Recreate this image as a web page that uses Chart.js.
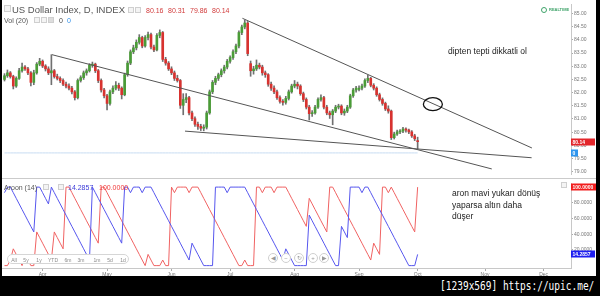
<!DOCTYPE html>
<html>
<head>
<meta charset="utf-8">
<script src="https://cdn.jsdelivr.net/npm/chart.js@4.4.0/dist/chart.umd.min.js"></script>
<style>
body{margin:0;background:#000;}
#wrap{position:relative;width:600px;height:296px;background:#000;overflow:hidden;font-family:"Liberation Sans",Arial,sans-serif;}
#panel{position:absolute;left:2px;top:0;width:594px;height:276px;background:#fff;}
canvas{position:absolute;left:2px;}
.t{position:absolute;white-space:nowrap;line-height:1;}
.sq{position:absolute;width:4px;height:4px;border:1px solid #cfcfcf;background:#f4f4f4;}
.note{position:absolute;white-space:nowrap;font-size:8.5px;color:#222;line-height:11.5px;}
.pill{position:absolute;left:7px;top:254px;width:120px;height:8px;border:1px solid #d6d6d6;border-radius:5px;background:#fff;}
.pill span{position:absolute;top:1.5px;font-size:5px;color:#8a8a8a;transform:translateX(-50%);}
.nav{position:absolute;width:8px;height:8px;border:1px solid #cfcfcf;border-radius:50%;background:#fff;font-size:6px;color:#999;text-align:center;line-height:8px;}
#sep{position:absolute;left:2px;top:178px;width:594px;height:1px;background:#cbcbcb;}
#foot{position:absolute;right:6px;top:278px;font-family:"DejaVu Sans Mono",monospace;font-size:13px;color:#fff;transform:scaleX(0.73);transform-origin:right top;white-space:nowrap;}
</style>
</head>
<body>
<div id="wrap">
  <div id="panel"></div>
  <canvas id="price" width="594" height="178" style="top:0"></canvas>
  <div id="sep"></div>
  <canvas id="aroon" width="594" height="97" style="top:179px"></canvas>

  <div class="sq" style="left:4px;top:5px;width:5px;height:5px"></div>
  <div class="t" style="left:12px;top:5px;font-size:9.5px;color:#555">US Dollar Index, D, INDEX</div>
  <div class="sq" style="left:128px;top:7px"></div>
  <div class="sq" style="left:135px;top:7px"></div>
  <div class="t" style="left:146px;top:7px;font-size:7px;color:#d23c3c">80.16</div>
  <div class="t" style="left:168px;top:7px;font-size:7px;color:#d23c3c">80.31</div>
  <div class="t" style="left:190px;top:7px;font-size:7px;color:#d23c3c">79.86</div>
  <div class="t" style="left:212px;top:7px;font-size:7px;color:#d23c3c">80.14</div>
  <div class="t" style="left:4px;top:17px;font-size:7px;color:#555">Vol (20)</div>
  <div class="sq" style="left:34px;top:17px"></div>
  <div class="sq" style="left:41px;top:17px"></div>
  <div class="sq" style="left:48px;top:17px;background:#ddd"></div>
  <div class="t" style="left:59px;top:17px;font-size:7px;color:#444">0</div>
  <div class="t" style="left:67px;top:17px;font-size:7px;color:#2f8fe8">0</div>

  <div class="t" style="left:541px;top:7px;width:4px;height:4px;border:1px solid #3fa36a;border-radius:50%"></div>
  <div class="t" style="left:549px;top:8px;font-size:4px;font-weight:bold;color:#3fa36a">REALTIME</div>

  <div class="t" style="left:4px;top:184px;font-size:7px;color:#555">Aroon (14)</div>
  <div class="sq" style="left:43px;top:184px"></div>
  <div class="sq" style="left:58px;top:184px"></div>
  <div class="t" style="left:68px;top:184px;font-size:7px;color:#3b3bd8">14.2857</div>
  <div class="t" style="left:99px;top:184px;font-size:7px;color:#f03a3a">100.0000</div>
  <div class="sq" style="left:561px;top:182px;width:4px;height:4px"></div>

  <div class="pill">
    <span style="left:6px">All</span><span style="left:18px">5y</span><span style="left:31px">1y</span>
    <span style="left:45px">YTD</span><span style="left:60px">6m</span><span style="left:73px">3m</span>
    <span style="left:89px">1m</span><span style="left:102px">5d</span><span style="left:115px">1d</span>
  </div>
  <div class="nav" style="left:268px;top:253px">&#9664;</div>
  <div class="nav" style="left:281px;top:253px">&#8722;</div>
  <div class="nav" style="left:294px;top:253px">&#8635;</div>
  <div class="nav" style="left:308px;top:253px">+</div>
  <div class="nav" style="left:319px;top:253px">&#9654;</div>

  <div class="note" style="left:448px;top:46px">dipten tepti dikkatli ol</div>
  <div class="note" style="left:452px;top:188px">aron mavi yukarı dönüş<br>yaparsa altın daha<br>düşer</div>

  <div id="foot">[1239x569] https://upic.me/</div>
</div>
<script>
// month ticks (bar index of first trading day of each month)
const monthLabels = ['Apr','May','Jun','Jul','Aug','Sep','Oct','Nov','Dec'];
const monthTicks = [13,35,57,77,99,121,141,164,184];
const priceTicks = [85,84.5,84,83.5,83,82.5,82,81.5,81,80.5,80,79.5,79];
const aroonTicks = [100,80,60,40,20];

// daily OHLC, US Dollar Index
const open = [
82.50,82.64,82.75,82.61,82.25,82.54,82.83,82.97,82.90,82.75,
82.39,82.75,83.08,83.19,83.01,82.90,82.75,82.83,82.61,82.54,
82.46,82.32,82.25,82.17,82.03,81.81,82.46,82.57,82.75,82.83,
83.04,83.08,82.83,82.46,82.10,81.88,81.59,82.03,82.17,82.28,
82.17,81.92,82.68,83.12,83.55,83.70,83.91,84.09,83.77,84.09,
84.20,83.73,83.62,84.17,84.28,83.26,83.12,82.90,82.75,82.54,
82.46,81.52,81.74,81.81,81.23,81.01,80.80,80.72,80.65,80.69,
81.23,82.03,82.39,82.54,82.68,82.83,82.97,83.19,83.33,83.55,
83.77,84.28,84.49,84.64,83.10,82.83,82.90,83.04,82.97,82.75,
82.68,82.32,82.17,82.03,81.81,81.67,81.63,81.78,82.03,82.25,
82.32,82.25,81.96,81.74,81.45,81.20,81.23,81.45,81.74,81.81,
81.45,81.23,81.16,81.30,81.45,81.49,81.23,81.30,81.45,81.88,
82.10,82.12,82.17,82.25,82.46,82.54,82.28,82.17,81.92,81.74,
81.59,81.38,81.30,80.29,80.43,80.51,80.54,80.62,80.58,80.51,
80.36,80.16];
const high = [
82.72,82.86,82.80,82.66,82.60,82.92,83.12,83.03,82.96,82.80,
82.85,83.14,83.30,83.24,83.06,82.98,83.44,82.88,82.70,82.60,
82.52,82.40,82.33,82.24,82.08,82.52,82.64,82.82,82.90,83.10,
83.16,83.12,82.88,82.52,82.16,81.94,82.10,82.26,82.42,82.36,
82.22,82.74,83.20,83.62,83.80,84.00,84.20,84.14,84.16,84.30,
84.26,83.80,84.24,84.38,84.32,83.34,83.18,82.98,82.82,82.66,
82.50,81.96,81.96,81.86,81.30,81.08,80.88,80.80,80.78,81.30,
82.10,82.46,82.62,82.74,82.90,83.04,83.26,83.40,83.62,83.84,
84.34,84.56,84.75,84.70,83.20,83.00,83.24,83.12,83.04,82.82,
82.72,82.40,82.26,82.10,81.88,81.74,81.86,82.10,82.32,82.46,
82.40,82.30,82.02,81.80,81.52,81.32,81.52,81.80,81.92,81.86,
81.52,81.30,81.36,81.52,81.56,81.54,81.38,81.52,81.94,82.16,
82.24,82.26,82.32,82.52,82.66,82.58,82.34,82.22,81.98,81.80,
81.64,81.50,81.34,80.50,80.58,80.60,80.68,80.66,80.62,80.56,
80.42,80.31];
const low = [
82.44,82.58,82.55,82.14,82.20,82.50,82.78,82.84,82.68,82.25,
82.30,82.70,83.02,82.95,82.82,82.68,82.30,82.55,82.48,82.38,
82.26,82.18,82.10,81.95,81.72,81.76,82.40,82.50,82.66,82.78,
82.96,82.76,82.38,82.02,81.80,81.34,81.52,81.96,82.10,82.08,
81.76,81.88,82.62,83.06,83.48,83.62,83.84,83.70,83.72,84.00,
83.66,83.55,83.58,84.08,83.18,83.04,82.84,82.68,82.46,82.40,
81.40,81.16,81.62,81.15,80.94,80.72,80.60,80.56,80.55,80.62,
81.18,81.96,82.30,82.46,82.60,82.74,82.90,83.12,83.26,83.48,
83.70,84.20,84.42,83.40,82.62,82.70,82.84,82.90,82.66,82.58,
82.24,82.08,81.96,81.74,81.60,81.52,81.56,81.72,81.98,82.18,
82.14,81.90,81.66,81.38,80.96,81.10,81.18,81.40,81.68,81.38,
81.16,81.02,80.78,81.24,81.38,81.16,81.14,81.24,81.40,81.82,
82.02,82.06,82.10,82.20,82.38,82.22,82.10,81.86,81.68,81.52,
81.32,81.22,80.22,80.24,80.38,80.44,80.48,80.50,80.44,80.30,
80.18,79.86];
const close = [
82.64,82.75,82.61,82.25,82.54,82.83,82.97,82.90,82.75,82.39,
82.75,83.08,83.19,83.01,82.90,82.75,82.83,82.61,82.54,82.46,
82.32,82.25,82.17,82.03,81.81,82.46,82.57,82.75,82.83,83.04,
83.08,82.83,82.46,82.10,81.88,81.59,82.03,82.17,82.28,82.17,
81.92,82.68,83.12,83.55,83.70,83.91,84.09,83.77,84.09,84.20,
83.73,83.62,84.17,84.28,83.26,83.12,82.90,82.75,82.54,82.46,
81.52,81.74,81.81,81.23,81.01,80.80,80.72,80.65,80.69,81.23,
82.03,82.39,82.54,82.68,82.83,82.97,83.19,83.33,83.55,83.77,
84.28,84.49,84.64,83.48,82.83,82.90,83.04,82.97,82.75,82.68,
82.32,82.17,82.03,81.81,81.67,81.63,81.78,82.03,82.25,82.32,
82.25,81.96,81.74,81.45,81.20,81.23,81.45,81.74,81.81,81.45,
81.23,81.16,81.30,81.45,81.49,81.23,81.30,81.45,81.88,82.10,
82.17,82.17,82.25,82.46,82.54,82.28,82.17,81.92,81.74,81.59,
81.38,81.30,80.29,80.43,80.51,80.54,80.62,80.58,80.51,80.36,
80.25,80.14];
const volume = [
0,0,0,0,0,0,0,0,0,0, 0,0,0,0,0,0,0,0,0,0, 0,0,0,0,0,0,0,0,0,0,
0,0,0,0,0,0,0,0,0,0, 0,0,0,0,0,0,0,0,0,0, 0,0,0,0,0,0,0,0,0,0,
0,0,0,0,0,0,0,0,0,0, 0,0,0,0,0,0,0,0,0,0, 0,0,0,0,0,0,0,0,0,0,
0,0,0,0,0,0,0,0,0,0, 0,0,0,0,0,0,0,0,0,0, 0,0,0,0,0,0,0,0,0,0,
0,0,0,0,0,0,0,0,0,0, 0,0,0,0,0,0,0,0,0,0, 0,0];

// Aroon (14)
const aroonUp = [
92.9,100,100,92.9,85.7,78.6,71.4,64.3,57.1,50,
42.9,100,100,92.9,85.7,78.6,100,92.9,85.7,78.6,
71.4,64.3,57.1,50,42.9,35.7,28.6,21.4,14.3,7.1,
100,92.9,85.7,78.6,71.4,64.3,57.1,50,42.9,35.7,
28.6,100,100,92.9,100,100,100,92.9,100,100,
100,92.9,85.7,78.6,71.4,64.3,57.1,50,42.9,35.7,
28.6,21.4,14.3,7.1,28.6,21.4,14.3,7.1,0,0,
0,0,100,100,100,100,92.9,100,100,100,
100,100,100,92.9,85.7,78.6,71.4,64.3,57.1,50,
42.9,35.7,28.6,21.4,14.3,7.1,21.4,14.3,7.1,0,
0,0,0,0,64.3,57.1,50,42.9,35.7,28.6,
21.4,14.3,7.1,0,0,50,42.9,35.7,100,100,
100,100,92.9,100,100,92.9,85.7,78.6,71.4,64.3,
57.1,50,42.9,35.7,28.6,21.4,14.3,7.1,0,0,
0,14.2857];
const aroonDown = [
0,0,7.1,21.4,14.3,7.1,0,14.3,7.1,0,
0,42.9,35.7,28.6,21.4,14.3,7.1,42.9,35.7,28.6,
21.4,100,100,92.9,85.7,78.6,71.4,64.3,57.1,50,
42.9,35.7,28.6,100,100,92.9,85.7,78.6,71.4,64.3,
57.1,50,42.9,35.7,28.6,21.4,14.3,7.1,0,14.3,
7.1,0,0,0,7.1,0,0,100,92.9,100,
100,100,100,92.9,100,100,100,92.9,85.7,78.6,
71.4,64.3,57.1,50,42.9,35.7,28.6,21.4,14.3,7.1,
0,0,7.1,0,0,0,100,100,92.9,100,
100,100,92.9,100,100,100,100,92.9,85.7,78.6,
71.4,64.3,57.1,50,85.7,78.6,71.4,64.3,57.1,50,
42.9,100,100,92.9,85.7,78.6,71.4,64.3,57.1,50,
42.9,35.7,28.6,21.4,14.3,7.1,28.6,21.4,14.3,100,
100,92.9,100,92.9,85.7,78.6,71.4,64.3,57.1,50,
42.9,100];

// drawn trend lines: [bar index, price]
const trendUpper = [[81.2,84.82],[180.0,79.90]];
const trendMiddle = [[16.2,83.44],[166.3,79.105]];
const trendLower = [[61.6,80.54],[179.9,79.53]];
const circleMark = [146.2,81.56];

const UP = '#4a9c37', DOWN = '#d8322f', WICK = '#707070';
const X_MIN = -0.853, X_MAX = 193.34;
const last = close.length - 1;

const boxPlugin = {
  id: 'boxes',
  afterDraw(chart, args, opts) {
    const ctx = chart.ctx, right = chart.chartArea.right;
    ctx.save();
    opts.items.forEach(it => {
      const py = Math.round(chart.scales[it.axis].getPixelForValue(it.value));
      ctx.fillStyle = it.bg;
      ctx.fillRect(right, py - 3.5, it.w, 7);
      ctx.fillStyle = '#fff';
      ctx.font = 'bold 5px "Liberation Sans"';
      ctx.textBaseline = 'middle';
      ctx.fillText(it.text, right + 1.5, py + 0.3);
    });
    ctx.restore();
  }
};

const ellipsePlugin = {
  id: 'ellipse',
  afterDatasetsDraw(chart) {
    const ctx = chart.ctx;
    const px = chart.scales.x.getPixelForValue(circleMark[0]);
    const py = chart.scales.y.getPixelForValue(circleMark[1]);
    ctx.save();
    ctx.beginPath();
    ctx.ellipse(px, py, 9.5, 6.5, 0, 0, Math.PI * 2);
    ctx.strokeStyle = '#111';
    ctx.lineWidth = 1.3;
    ctx.stroke();
    ctx.restore();
  }
};

function trend(pts) {
  return {type:'line', data: pts.map(p => ({x:p[0], y:p[1]})), borderColor:'#555', borderWidth:1,
          pointRadius:0, order:-1, yAxisID:'y'};
}

new Chart(document.getElementById('price'), {
  type: 'bar',
  data: {
    datasets: [
      trend(trendUpper), trend(trendMiddle), trend(trendLower),
      {type:'line', data: volume.map((v,i) => ({x:i, y:v})), yAxisID:'yVol', borderColor:'#c7dcf2',
       borderWidth:1, pointRadius:0, order:3},
      {data: high.map((h,i) => ({x:i, y:[low[i], h]})), backgroundColor: WICK, barThickness:1,
       grouped:false, order:2},
      {data: open.map((o,i) => ({x:i, y:[o, close[i]]})),
       backgroundColor: c => close[c.dataIndex] >= open[c.dataIndex] ? UP : DOWN,
       barThickness:2, grouped:false, minBarLength:1, order:1}
    ]
  },
  options: {
    responsive:false, animation:false, devicePixelRatio:1,
    layout:{padding:0},
    plugins:{legend:{display:false}, tooltip:{enabled:false},
      boxes:{items:[
        {axis:'y', value:close[last], text:close[last].toFixed(2), bg:'#e3262b', w:24},
        {axis:'yVol', value:volume[last], text:'0', bg:'#2e95ee', w:7}
      ]}},
    scales:{
      x:{type:'linear', min:X_MIN, max:X_MAX, offset:false, display:false},
      y:{position:'right', min:78.913, max:85.362,
         afterFit(s){ s.width = 25; },
         afterBuildTicks(s){ s.ticks = priceTicks.map(v => ({value:v})); },
         ticks:{font:{size:5, family:'Liberation Sans'}, color:'#777', padding:1, callback:v => v.toFixed(2)},
         grid:{drawOnChartArea:false, tickLength:2, color:'#aaa'},
         border:{color:'#c8c8c8'}},
      yVol:{display:false, min:-1, max:7.06}
    }
  },
  plugins:[boxPlugin, ellipsePlugin]
});

new Chart(document.getElementById('aroon'), {
  type: 'line',
  data: {
    datasets: [
      {data: aroonUp.map((v,i) => ({x:i, y:v})), borderColor:'#5656ee', borderWidth:1, pointRadius:0},
      {data: aroonDown.map((v,i) => ({x:i, y:v})), borderColor:'#f06262', borderWidth:1, pointRadius:0}
    ]
  },
  options: {
    responsive:false, animation:false, devicePixelRatio:1,
    layout:{padding:0},
    plugins:{legend:{display:false}, tooltip:{enabled:false},
      boxes:{items:[
        {axis:'y', value:aroonDown[last], text:aroonDown[last].toFixed(4), bg:'#f21d1d', w:25},
        {axis:'y', value:aroonUp[last], text:aroonUp[last].toFixed(4), bg:'#1f1ff0', w:24}
      ]}},
    scales:{
      x:{type:'linear', min:X_MIN, max:X_MAX, offset:false, position:'bottom',
         afterFit(s){ s.height = 8; },
         afterBuildTicks(s){ s.ticks = monthTicks.map(v => ({value:v})); },
         ticks:{font:{size:5, family:'Liberation Sans'}, color:'#777', padding:1, maxRotation:0, autoSkip:false,
                callback:(v,i) => monthLabels[i]},
         grid:{drawOnChartArea:false, tickLength:3, color:'#aaa'},
         border:{color:'#c8c8c8'}},
      y:{position:'right', min:-3.04, max:105.23,
         afterFit(s){ s.width = 25; },
         afterBuildTicks(s){ s.ticks = aroonTicks.map(v => ({value:v})); },
         ticks:{font:{size:5, family:'Liberation Sans'}, color:'#777', padding:1, callback:v => v.toFixed(4)},
         grid:{drawOnChartArea:false, tickLength:2, color:'#aaa'},
         border:{color:'#c8c8c8'}}
    }
  },
  plugins:[boxPlugin]
});
</script>
</body>
</html>
